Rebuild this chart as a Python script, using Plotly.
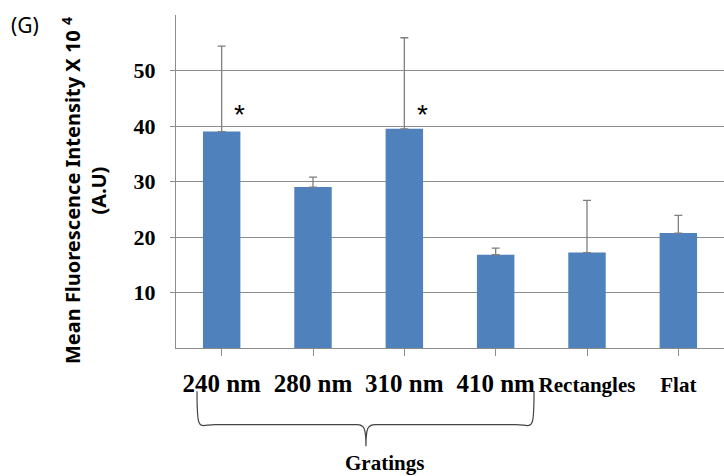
import plotly.graph_objects as go

categories = ["240 nm", "280 nm", "310 nm", "410 nm", "Rectangles", "Flat"]
means = [39.0, 29.0, 39.5, 16.8, 17.2, 20.7]
err_plus = [15.4, 1.8, 16.4, 1.2, 9.4, 3.2]
star_cats = [0, 2]
star_level = 42
y_ticks = [10, 20, 30, 40, 50]

tick_text = []
for c in categories:
    if "nm" in c:
        tick_text.append(f"<span style='font-size:25px'>{c}</span>")
    else:
        tick_text.append(f"<span style='font-size:21px'>{c}</span>")

fig = go.Figure()
fig.add_trace(go.Bar(
    x=list(range(len(categories))), y=means,
    marker=dict(color="#4F81BD", line=dict(width=0)),
    width=0.41,
    error_y=dict(type="data", symmetric=False, array=err_plus,
                 arrayminus=[0]*len(means), color="#7f7f7f",
                 thickness=1.3, width=4),
))

serif = "Liberation Serif, Times New Roman, serif"

for i in star_cats:
    fig.add_annotation(x=i + 0.2, y=star_level, text="*", showarrow=False,
                       font=dict(family="Liberation Sans, Arial", size=28, color="black"),
                       xref="x", yref="y")

fig.update_layout(
    width=724, height=476,
    margin=dict(l=176, r=0, t=15, b=128, autoexpand=False),
    paper_bgcolor="white", plot_bgcolor="white",
    showlegend=False,
    xaxis=dict(
        tickmode="array", tickvals=list(range(len(categories))), ticktext=tick_text,
        range=[-0.5, 5.5], automargin=False,
        tickfont=dict(size=25, family=serif, color="black", weight="bold"),
        showline=True, linecolor="#8c8c8c", linewidth=1,
        ticks="outside", ticklen=7, tickcolor="#8c8c8c", tickson="boundaries",
        showgrid=False, zeroline=False, ticklabelstandoff=6,
    ),
    yaxis=dict(
        range=[0, 60], tickvals=y_ticks, automargin=False,
        tickfont=dict(size=22, family=serif, color="black", weight="bold"),
        showline=True, linecolor="#8c8c8c", linewidth=1,
        ticks="outside", ticklen=5, tickcolor="#8c8c8c",
        showgrid=True, gridcolor="#8c8c8c", gridwidth=1,
        zeroline=False, ticklabelstandoff=10,
    ),
)

# y-axis title (two lines)
fig.add_annotation(
    xref="paper", yref="paper", x=-0.168, y=0.474, xanchor="center", yanchor="middle",
    text="Mean Fluorescence Intensity X 10 <sup>4</sup><br>(A.U)", textangle=-90,
    showarrow=False, align="center",
    font=dict(family="Noto Sans, Open Sans, sans-serif", size=20, color="black", weight="bold"),
)

# panel label
fig.add_annotation(
    xref="paper", yref="paper", x=-0.275, y=0.97, xanchor="center", yanchor="middle",
    text="(G)", showarrow=False,
    font=dict(family="Noto Sans, Open Sans, sans-serif", size=21, color="black"),
)

# brace under the grating categories
x0, x1, xm = -0.27, 3.42, 1.58
yt, yb, ytip = -0.13, -0.23, -0.295
path = (f"M {x0},{yt} C {x0},{yb-0.03} {x0+0.02},{yb} {x0+0.2},{yb} "
        f"L {xm-0.1},{yb} C {xm-0.02},{yb} {xm},{yb-0.01} {xm},{ytip} "
        f"C {xm},{yb-0.01} {xm+0.02},{yb} {xm+0.1},{yb} "
        f"L {x1-0.2},{yb} C {x1-0.02},{yb} {x1},{yb-0.03} {x1},{yt}")
fig.add_shape(type="path", path=path, xref="x", yref="paper",
              line=dict(color="#444", width=1.2))

fig.add_annotation(
    xref="x", yref="paper", x=1.78, y=-0.345, xanchor="center", yanchor="middle",
    text="Gratings", showarrow=False,
    font=dict(size=21, family=serif, color="black", weight="bold"),
)

fig.write_html("out.html", config={"displayModeBar": False},
               post_script="document.body.style.margin='0';")
